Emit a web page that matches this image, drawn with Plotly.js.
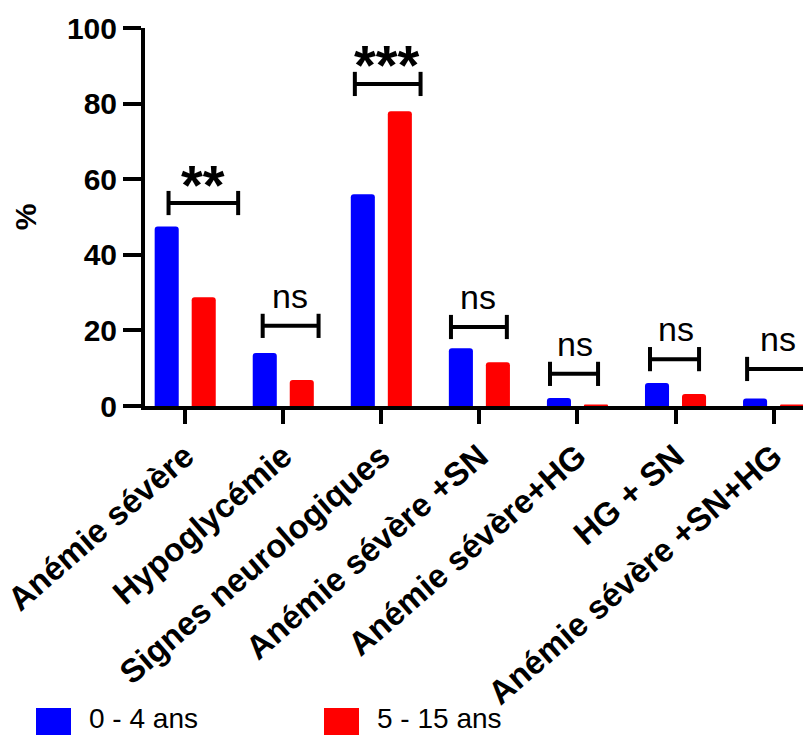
<!DOCTYPE html>
<html>
<head>
<meta charset="utf-8">
<script src="https://cdn.plot.ly/plotly-3.0.1.min.js"></script>
<style>html,body{margin:0;padding:0;background:#fff;}</style>
</head>
<body>
<div id="chart" style="width:803px;height:735px;"></div>
<script>
// ---- data ----
const categories = ["Anémie sévère", "Hypoglycémie", "Signes neurologiques", "Anémie sévère +SN", "Anémie sévère+HG", "HG + SN", "Anémie sévère +SN+HG"];
const seriesNames = ["0 - 4 ans", "5 - 15 ans"];
const young = [47.5, 14.0, 56.0, 15.3, 2.1, 6.1, 2.0];
const older = [28.8, 6.9, 78.0, 11.6, 0.4, 3.2, 0.4];
const sigLabels = ["**", "ns", "***", "ns", "ns", "ns", "ns"];
const sigHeights = [53.7, 21.2, 85.2, 20.9, 8.5, 12.4, 9.8];
const yTicks = [0, 20, 40, 60, 80, 100];

// ---- layout / style constants ----
const W = 803, H = 735;
const M = {l: 145, r: 0, t: 28, b: 329};
const colors = ["#0000FF", "#FF0000"];
const bracketLeft = [-0.17, -0.21, -0.27, -0.29, -0.28, -0.26, -0.27];
const bracketRight = [0.54, 0.36, 0.40, 0.28, 0.21, 0.24, 0.60];
const labelShift = [0.18, 0.07, 0.06, -0.01, -0.02, 0.0, 0.04];
const capHalf = 3.2;

const traces = [young, older].map((vals, i) => ({
  type: "bar",
  x: categories,
  y: vals,
  name: seriesNames[i],
  marker: {color: colors[i], line: {width: 0}},
  showlegend: false,
  hoverinfo: "x+y"
}));

const shapes = [];
const annotations = [];
categories.forEach((c, i) => {
  const x0 = i + bracketLeft[i], x1 = i + bracketRight[i], y = sigHeights[i];
  const ln = {color: "#000", width: 4};
  shapes.push({type: "line", xref: "x", yref: "y", x0: x0, x1: x1, y0: y, y1: y, line: ln});
  shapes.push({type: "line", xref: "x", yref: "y", x0: x0, x1: x0, y0: y - capHalf, y1: y + capHalf, line: ln});
  shapes.push({type: "line", xref: "x", yref: "y", x0: x1, x1: x1, y0: y - capHalf, y1: y + capHalf, line: ln});
  const star = sigLabels[i].indexOf("*") >= 0;
  annotations.push({
    xref: "x", yref: "y", x: i + labelShift[i], y: y,
    text: sigLabels[i], showarrow: false,
    xanchor: "center", yanchor: "middle",
    yshift: star ? 19 : 30,
    font: star ? {family: "Arial, Liberation Sans, sans-serif", size: 56, weight: "bold", color: "#000"}
               : {family: "Arial, Liberation Sans, sans-serif", size: 34, color: "#000"}
  });
});

// manual legend (large swatches) in paper coords derived from margins
const plotW = W - M.l - M.r, plotH = H - M.t - M.b;
const px = x => (x - M.l) / plotW;
const py = y => (H - M.b - y) / plotH;
const legendSwatchX = [36, 324];
const legendTextX = [87, 375];
seriesNames.forEach((n, i) => {
  shapes.push({type: "rect", xref: "paper", yref: "paper",
    x0: px(legendSwatchX[i]), x1: px(legendSwatchX[i] + 35),
    y0: py(708), y1: py(745),
    fillcolor: colors[i], line: {width: 0}});
  annotations.push({xref: "paper", yref: "paper", x: px(legendTextX[i]), y: py(718),
    text: n, showarrow: false, xanchor: "left", yanchor: "middle",
    font: {family: "Liberation Sans Narrow, Arial Narrow, Arial, sans-serif", size: 28, color: "#000"}});
});

const layout = {
  width: W, height: H,
  margin: M,
  paper_bgcolor: "#fff", plot_bgcolor: "#fff",
  barmode: "group",
  bargap: 0.245,
  bargroupgap: 0.35,
  barcornerradius: 3,
  xaxis: {
    type: "category",
    range: [-0.41, 6.3],
    showgrid: false, zeroline: false,
    showline: true, linecolor: "#000", linewidth: 4,
    ticks: "outside", ticklen: 14, tickwidth: 4, tickcolor: "#000",
    tickangle: -41,
    tickfont: {family: "Arial, Liberation Sans, sans-serif", size: 33, weight: "bold", color: "#000"},
    automargin: false
  },
  yaxis: {
    range: [0, 100],
    tickvals: yTicks,
    ticktext: yTicks.map(String),
    showgrid: false, zeroline: false,
    showline: true, linecolor: "#000", linewidth: 4,
    ticks: "outside", ticklen: 18, tickwidth: 4, tickcolor: "#000",
    tickfont: {family: "Arial, Liberation Sans, sans-serif", size: 30, weight: "bold", color: "#000"},
    title: {text: "%", standoff: 22, font: {family: "Arial, Liberation Sans, sans-serif", size: 30, weight: "bold", color: "#000"}},
    automargin: false
  },
  shapes: shapes,
  annotations: annotations,
  showlegend: false
};

Plotly.newPlot("chart", traces, layout, {displayModeBar: false, staticPlot: true});
</script>
</body>
</html>
